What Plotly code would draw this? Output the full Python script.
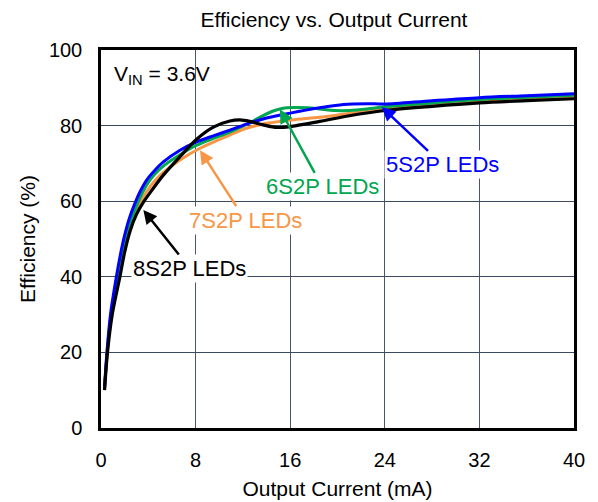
import plotly.graph_objects as go

# ---- data ----
current_5s2p = [0.3, 0.5, 0.8, 1.3, 1.65, 2.0, 2.4, 2.85, 3.3, 3.86, 4.5, 5.27, 6.68, 8.09, 9.5, 10.9, 12.3, 14.0, 16.0, 18.5, 20.5, 22.5, 24.0, 28.0, 32.0, 36.0, 40.0]
eff_5s2p = [11, 20, 30, 40, 46, 51, 55.5, 59.3, 62.5, 65.6, 68.0, 70.4, 73.5, 75.7, 77.3, 78.8, 80.4, 82.0, 83.3, 84.7, 85.6, 85.8, 85.7, 86.6, 87.4, 87.9, 88.4]

current_6s2p = [0.3, 0.52, 0.85, 1.4, 2.1, 2.6, 3.1, 3.86, 4.5, 5.27, 6.68, 8.09, 9.5, 10.9, 12.3, 13.5, 14.5, 15.4, 16.3, 17.5, 18.5, 19.8, 21.0, 22.5, 24.0, 28.0, 32.0, 36.0, 40.0]
eff_6s2p = [10.5, 20, 30, 40, 50, 55.5, 59.5, 64.3, 67.0, 69.3, 72.3, 74.8, 76.6, 78.3, 80.3, 82.3, 83.8, 84.6, 84.8, 84.7, 84.4, 84.0, 84.0, 84.4, 85.0, 86.0, 86.9, 87.5, 88.0]

current_7s2p = [0.3, 0.53, 0.9, 1.5, 2.2, 2.75, 3.3, 3.86, 4.5, 5.27, 6.68, 8.37, 10.9, 12.3, 14.0, 16.1, 18.5, 20.5, 22.5, 24.0, 28.0, 32.0, 36.0, 40.0]
eff_7s2p = [10.5, 20, 30, 40, 50, 55.5, 59.3, 62.5, 65.2, 67.6, 70.9, 74.0, 77.5, 79.3, 80.6, 81.5, 82.2, 83.0, 83.8, 84.4, 85.6, 86.5, 87.1, 87.6]

current_8s2p = [0.3, 0.55, 0.95, 1.6, 2.0, 2.45, 3.0, 3.6, 4.3, 5.27, 6.68, 8.09, 9.5, 10.9, 11.75, 12.6, 13.7, 14.9, 16.1, 18.5, 21.0, 24.0, 28.0, 32.0, 36.0, 40.0]
eff_8s2p = [10, 20, 30, 40, 46.5, 52, 56.5, 59.8, 62.9, 66.9, 71.8, 76.4, 79.6, 81.2, 81.5, 81.1, 80.2, 79.5, 79.8, 81.1, 82.6, 84.0, 85.1, 86.0, 86.6, 87.1]

x_ticks = [0, 8, 16, 24, 32, 40]
y_ticks = [0, 20, 40, 60, 80, 100]

FONT = "Liberation Sans, Arial, sans-serif"

series = [
    ("7S2P LEDs", current_7s2p, eff_7s2p, "#F79646", 3),
    ("6S2P LEDs", current_6s2p, eff_6s2p, "#00A650", 3),
    ("5S2P LEDs", current_5s2p, eff_5s2p, "#0000FF", 3),
    ("8S2P LEDs", current_8s2p, eff_8s2p, "#000000", 3.2),
]

fig = go.Figure()
for name, xs, ys, color, w in series:
    fig.add_trace(go.Scatter(x=xs, y=ys, mode="lines", name=name,
                             line=dict(color=color, width=w, shape="spline", smoothing=0.9)))

# label annotations: (text, tip x, tip y, text x, text y, color)
labels = [
    ("5S2P LEDs", 23.75, 84.9, 28.9, 69.6, "#0000FF"),
    ("6S2P LEDs", 15.13, 84.3, 18.72, 63.8, "#00A650"),
    ("7S2P LEDs", 8.37, 73.5, 12.2, 55.0, "#F79646"),
    ("8S2P LEDs", 3.58, 57.7, 7.52, 42.2, "#000000"),
]
for text, tx, ty, lx, ly, color in labels:
    fig.add_annotation(x=tx, y=ty, ax=lx, ay=ly, xref="x", yref="y", axref="x", ayref="y",
                       text=text, showarrow=True, arrowhead=2, arrowsize=1.1, arrowwidth=2.5,
                       arrowcolor=color, font=dict(family=FONT, size=22, color=color),
                       bgcolor="white", borderpad=1)

fig.add_annotation(x=0.95, y=93.5, xref="x", yref="y", xanchor="left", yanchor="middle",
                   text="V<sub>IN</sub> = 3.6V", showarrow=False,
                   font=dict(family=FONT, size=21, color="black"))

W, H = 590, 494  # page adds an 8px body margin
fig.update_layout(
    width=W, height=H,
    margin=dict(l=93, r=24, t=42, b=74, autoexpand=False),
    paper_bgcolor="white", plot_bgcolor="white",
    showlegend=False,
    title=dict(text="Efficiency vs. Output Current", x=326 / W, xanchor="center",
               y=1 - 12 / H, yanchor="middle",
               font=dict(family=FONT, size=21, color="black")),
    font=dict(family=FONT, color="black"),
)
fig.update_xaxes(range=[0, 40], tickvals=x_ticks, ticktext=[str(v) for v in x_ticks],
                 showgrid=True, gridcolor="#4a5663", gridwidth=1.2,
                 showline=True, linecolor="black", linewidth=2.5, mirror=True,
                 zeroline=False, ticks="", ticklabelstandoff=12,
                 tickfont=dict(family=FONT, size=20, color="black"),
                 title=dict(text="Output Current (mA)", standoff=12,
                            font=dict(family=FONT, size=21, color="black")))
fig.update_yaxes(range=[0, 100], tickvals=y_ticks, ticktext=[str(v) for v in y_ticks],
                 showgrid=True, gridcolor="#3a4a60", gridwidth=1.2,
                 showline=True, linecolor="black", linewidth=2.5, mirror=True,
                 zeroline=False, ticks="", ticklabelstandoff=12,
                 tickfont=dict(family=FONT, size=20, color="black"),
                 title=dict(text="Efficiency (%)", standoff=8,
                            font=dict(family=FONT, size=21, color="black")))

fig.write_html("out.html")
